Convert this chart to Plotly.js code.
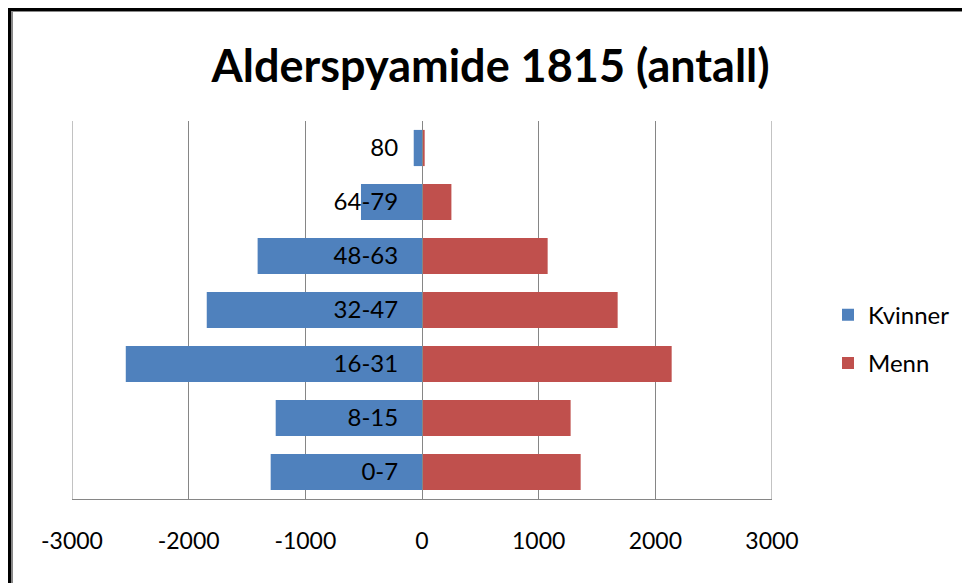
<!DOCTYPE html>
<html>
<head>
<meta charset="utf-8">
<script src="https://cdn.plot.ly/plotly-3.0.1.min.js"></script>
<style>
  html, body { margin: 0; padding: 0; background: #fff; }
  #wrap { position: relative; width: 962px; height: 583px; overflow: hidden; }
  #chart { position: absolute; left: 0; top: 0; width: 962px; height: 583px; }
  .frame-outer { position: absolute; left: 8px; top: 8px; right: -10px; bottom: -10px;
    border-top: 3px solid #000; border-left: 3px solid #000; pointer-events: none; }
  .frame-inner { position: absolute; left: 11px; top: 11px; right: -10px; bottom: -10px;
    border-top: 1px solid #888; border-left: 2px solid #888; pointer-events: none; }
</style>
</head>
<body>
<div id="wrap">
  <div id="chart"></div>
  <div class="frame-outer"></div>
  <div class="frame-inner"></div>
</div>
<script>
// Data
const categories = ['0-7', '8-15', '16-31', '32-47', '48-63', '64-79', '80'];
const kvinner = [-1297, -1254, -2539, -1845, -1409, -523, -71];
const menn = [1360, 1274, 2140, 1677, 1077, 252, 23];
const xTicks = [-3000, -2000, -1000, 0, 1000, 2000, 3000];
const seriesNames = ['Kvinner', 'Menn'];

const FONT = 'Lato, "Open Sans", sans-serif';
const GRID = '#868686';

const traces = [
  {
    type: 'bar', orientation: 'h', name: seriesNames[0],
    y: categories, x: kvinner, legendgroup: 'k',
    marker: { color: '#4F81BD', line: { width: 0 } },
    hoverinfo: 'skip'
  },
  {
    type: 'bar', orientation: 'h', name: seriesNames[1],
    y: categories, x: menn, legendgroup: 'm',
    marker: { color: '#C0504D', line: { width: 0 } },
    hoverinfo: 'skip'
  }
];

// edge gridlines (Plotly hides gridlines lying on the range edges)
const edgeLines = [xTicks[0], xTicks[xTicks.length - 1]].map(v => ({
  type: 'line', xref: 'x', yref: 'paper', x0: v, x1: v, y0: 0, y1: 1,
  line: { color: GRID, width: 1 }, layer: 'below'
}));

const layout = {
  width: 962, height: 583,
  paper_bgcolor: '#fff', plot_bgcolor: '#fff',
  margin: { l: 72, r: 190, t: 121, b: 84 },
  barmode: 'relative',
  bargap: 0.33,
  font: { family: FONT, color: '#000', size: 22 },
  title: {
    text: '<b>Alderspyamide 1815 (antall)</b>',
    font: { family: FONT, size: 45, color: '#000' },
    x: 0.51, xanchor: 'center', y: 0.886, yanchor: 'middle'
  },
  shapes: edgeLines,
  xaxis: {
    range: [xTicks[0], xTicks[xTicks.length - 1]],
    tickvals: xTicks,
    ticktext: xTicks.map(String),
    showgrid: true, gridcolor: GRID, gridwidth: 1,
    zeroline: false,
    showline: true, linecolor: GRID, linewidth: 1,
    ticks: '', ticklabelstandoff: 21,
    tickfont: { family: FONT, size: 23, color: '#000' },
    fixedrange: true
  },
  yaxis: {
    type: 'category',
    categoryorder: 'array', categoryarray: categories,
    anchor: 'free', position: 0.5,
    showgrid: false, zeroline: false,
    showline: true, linecolor: GRID, linewidth: 1,
    ticks: '', ticklabelstandoff: 19,
    tickfont: { family: FONT, size: 24, color: '#000' },
    fixedrange: true
  },
  showlegend: true,
  legend: {
    xref: 'container', x: 828 / 962, xanchor: 'left',
    y: 0.423, yanchor: 'middle',
    traceorder: 'grouped', tracegroupgap: 14,
    font: { family: FONT, size: 24, color: '#000' },
    bgcolor: 'rgba(0,0,0,0)', itemwidth: 30
  }
};

Plotly.newPlot('chart', traces, layout, { displayModeBar: false, staticPlot: true });
</script>
</body>
</html>
